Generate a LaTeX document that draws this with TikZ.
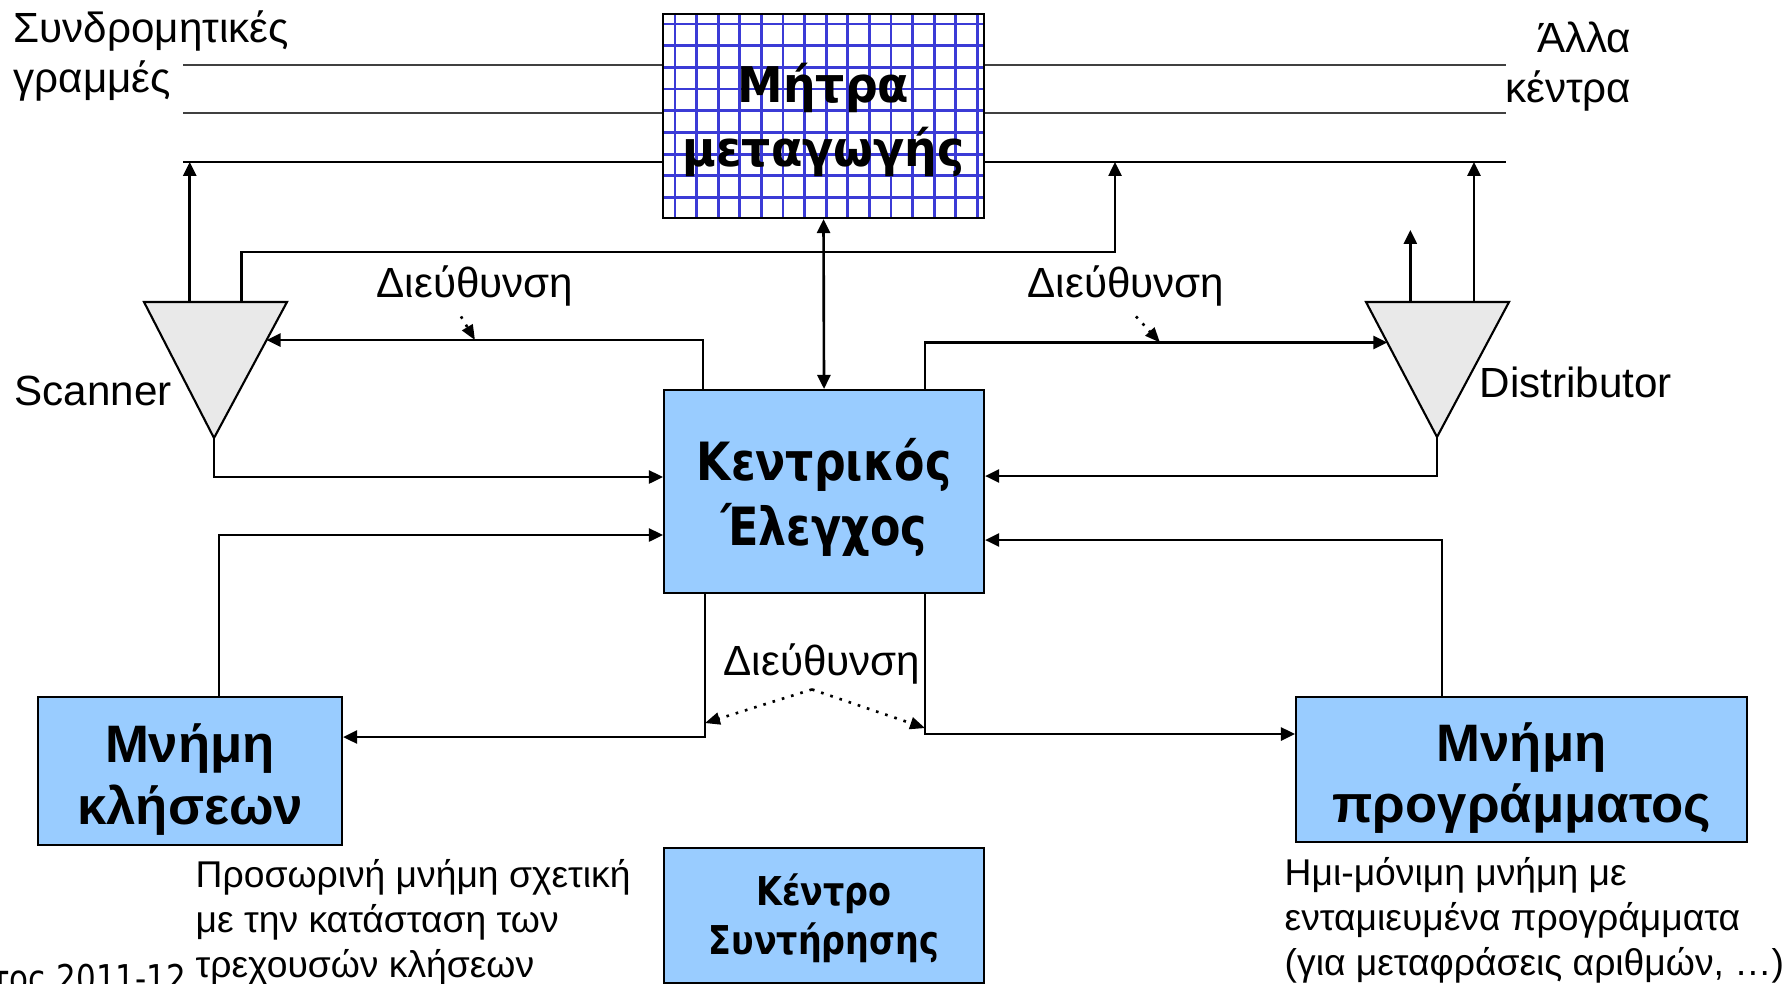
\documentclass[tikz,border=0pt]{standalone}
\usepackage{fontspec}
\setmainfont{Liberation Sans}
\newfontfamily\boxfont[FakeStretch=0.84]{DejaVu Sans}
\newfontfamily\matfont[FakeStretch=0.93]{DejaVu Sans}
\usetikzlibrary{positioning, calc, arrows.meta, backgrounds}
\definecolor{BoxBlue}{HTML}{99CCFF}
\definecolor{GridBlue}{HTML}{3B3BD6}
\definecolor{TriGray}{HTML}{E9E9E9}
\newcommand{\lift}[1]{\rule{0pt}{#1}}
\tikzset{
    unitbox/.style={rectangle, draw=black, line width=0.6pt, fill=BoxBlue, align=center, inner sep=0pt, font=\boxfont\bfseries\fontsize{15pt}{18.5pt}\selectfont},
    membox/.style={unitbox, font=\bfseries\fontsize{15pt}{17.6pt}\selectfont},
    gridbox/.style={rectangle, draw=black, line width=0.6pt, align=center, inner sep=0pt, font=\matfont\bfseries\fontsize{14pt}{18.2pt}\selectfont},
    gridline/.style={GridBlue, line width=0.28mm},
    tri/.style={draw=black, line width=0.6pt, fill=TriGray},
    subline/.style={line width=0.6pt, black!75},
    mainline/.style={line width=0.8pt},
    wire/.style={line width=0.75pt},
    arrow/.style={wire, -{Triangle[length=1.4mm, width=1.3mm]}},
    biarrow/.style={wire, {Triangle[length=1.4mm, width=1.3mm]}-{Triangle[length=1.4mm, width=1.3mm]}},
    dotarrow/.style={line width=0.75pt, dotted, -{Triangle[length=1.5mm, width=1.2mm]}},
    lbl/.style={inner sep=0pt, align=left, font=\fontsize{12pt}{14.5pt}\selectfont},
    note/.style={inner sep=0pt, align=left, font=\fontsize{10.6pt}{12.7pt}\selectfont},
}

\begin{document}
\begin{tikzpicture}[x=0.1mm, y=-0.1mm]
    \useasboundingbox (0,0) rectangle (1789,984);
    \clip (0,0) rectangle (1789,984);

    % Matrix of the switch
    \node[gridbox, minimum width=32.1mm, minimum height=20.4mm] (mat) at (823.5,116) {\lift{4.65mm}Μήτρα\\μεταγωγής};
    \begin{scope}[on background layer]
        \foreach \i in {0,...,14}
            \draw[gridline] ($(mat.north west)+(13+21.6*\i,0)$) -- ($(mat.south west)+(13+21.6*\i,0)$);
        \foreach \j in {0,...,8}
            \draw[gridline] ($(mat.north west)+(0,11+21.7*\j)$) -- ($(mat.north east)+(0,11+21.7*\j)$);
    \end{scope}

    % Lines in and out
    \coordinate (subL1) at (183,65);
    \coordinate (subL2) at (183,113);
    \coordinate (subL3) at (183,162);
    \coordinate (trkR1) at (1506,65);
    \coordinate (trkR2) at (1506,113);
    \coordinate (trkR3) at (1506,162);
    \draw[subline] (subL1) -- (subL1 -| mat.west);
    \draw[subline] (subL2) -- (subL2 -| mat.west);
    \draw[mainline] (subL3) -- (subL3 -| mat.west);
    \draw[subline] (mat.east |- trkR1) -- (trkR1);
    \draw[subline] (mat.east |- trkR2) -- (trkR2);
    \draw[mainline] (mat.east |- trkR3) -- (trkR3);

    \node[lbl, anchor=base west] (subsTxt) at (13,93) {Συνδρομητικές\\γραμμές};
    \node[lbl, align=right, anchor=base east] (trkTxt) at (1632,103) {Άλλα\\κέντρα};

    % Central control and memories
    \node[unitbox, minimum width=32mm, minimum height=20.3mm] (cen) at (824,491.5) {\lift{5.4mm}Κεντρικός\\Έλεγχος};
    \node[unitbox, minimum width=32mm, minimum height=13.5mm, font=\boxfont\bfseries\fontsize{11.3pt}{14pt}\selectfont] (maint) at (824,915.5) {\lift{3.7mm}Κέντρο\\Συντήρησης};
    \node[membox, minimum width=30.4mm, minimum height=14.8mm] (mk) at (190,771) {\lift{5.6mm}Μνήμη\\κλήσεων};
    \node[membox, minimum width=45.1mm, minimum height=14.5mm] (mp) at (1521.5,769.5) {\lift{5.6mm}Μνήμη\\προγράμματος};

    % Scanner
    \coordinate (scL) at (144,302);
    \coordinate (scR) at (287,302);
    \coordinate (scA) at (214,438);
    \filldraw[tri] (scL) -- (scR) -- (scA) -- cycle;
    \node[lbl, anchor=base west] (scTxt) at (14,406) {Scanner};
    \coordinate (scUp) at ($(scL)!0.32!(scR)$);
    \coordinate (scAddr) at ($(scL)!0.68!(scR)$);
    \coordinate (scIn) at ($(scR)!0.28!(scA)$);
    \coordinate (trkTap) at (1115,162);
    \draw[arrow] (scUp) -- (scUp |- subL3);
    \draw[arrow] (scAddr) -- ++(0,-50) -| (trkTap);
    \draw[arrow] ([xshift=4mm]cen.north west) |- (scIn);
    \draw[arrow] (scA) |- ([yshift=1.45mm]cen.west);

    % Distributor
    \coordinate (dsL) at (1366,302);
    \coordinate (dsR) at (1509,302);
    \coordinate (dsA) at (1437,437);
    \filldraw[tri] (dsL) -- (dsR) -- (dsA) -- cycle;
    \node[lbl, anchor=base west] (dsTxt) at (1479,397) {Distributor};
    \coordinate (dsUp) at ($(dsL)!0.31!(dsR)$);
    \coordinate (dsOut) at ($(dsUp)+(0,-72)$);
    \coordinate (dsTrk) at ($(dsL)!0.755!(dsR)$);
    \coordinate (dsIn) at ($(dsL)!0.3!(dsA)$);
    \draw[arrow] (dsUp) -- (dsOut);
    \draw[arrow] (dsTrk) -- (dsTrk |- trkR3);
    \draw[arrow] ([xshift=-6mm]cen.north east) |- (dsIn);
    \draw[arrow] (dsA) |- ([yshift=1.55mm]cen.east);

    % Address labels
    \node[lbl, anchor=base west] (addrL) at (376,298) {Διεύθυνση};
    \node[lbl, anchor=base west] (addrR) at (1027,298) {Διεύθυνση};
    \draw[dotarrow] ($(addrL.south)+(-14,9)$) -- (addrL.south |- scIn);
    \draw[dotarrow] ($(addrR.south)+(10,9)$) -- ($(addrR.south |- dsIn)+(34,0)$);

    % Switch matrix <-> control
    \draw[biarrow] (mat.south) -- (cen.north);

    % Memories
    \coordinate (cenOutL) at ([xshift=4.2mm]cen.south west);
    \coordinate (cenOutR) at ([xshift=-6mm]cen.south east);
    \draw[arrow] ([xshift=2.9mm]mk.north) |- ([yshift=-4.35mm]cen.west);
    \draw[arrow] (cenOutL) |- ([yshift=3.4mm]mk.east);
    \draw[arrow] (cenOutR) |- ([yshift=3.55mm]mp.west);
    \draw[arrow] ([xshift=-7.95mm]mp.north) |- ([yshift=-4.85mm]cen.east);

    \node[lbl, anchor=base west] (addrB) at (723,675) {Διεύθυνση};
    \coordinate (addrBtip) at ($(addrB.south)+(-10,5)$);
    \draw[dotarrow] (addrBtip) -- ($(cenOutL)+(0,129)$);
    \draw[dotarrow] (addrBtip) -- ($(cenOutR)+(0,134)$);

    % Notes
    \node[note, anchor=base west] (mkNote) at (195,977) {Προσωρινή μνήμη σχετική\\με την κατάσταση των\\τρεχουσών κλήσεων};
    \node[note, anchor=base west] (mpNote) at (1284,975) {Ημι-μόνιμη μνήμη με\\ενταμιευμένα προγράμματα\\(για μεταφράσεις αριθμών, …)};
    \node[anchor=base east, inner sep=0pt, font=\boxfont\fontsize{10.5pt}{12pt}\selectfont] (yearTxt) at (187,991) {Έτος 2011-12};
\end{tikzpicture}
\end{document}
